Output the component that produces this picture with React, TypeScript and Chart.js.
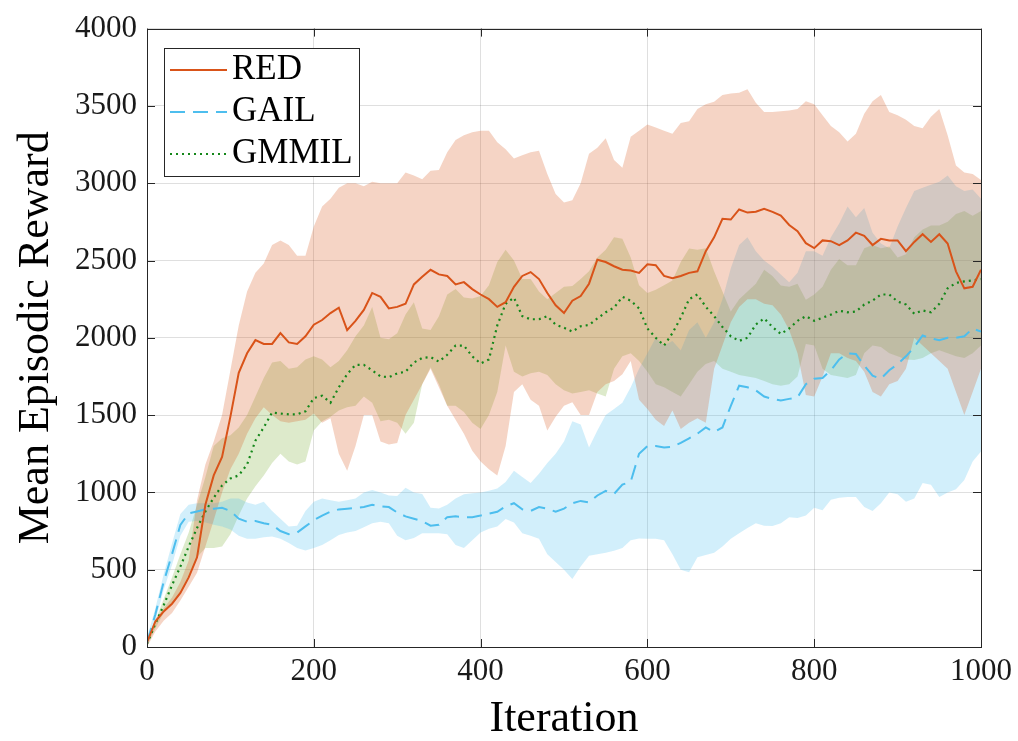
import React, { useEffect, useRef } from 'react';
import { Chart, registerables } from 'chart.js';

Chart.register(...registerables);

const iterations = [
  0, 10, 20, 30, 40, 50, 60, 70, 80, 90,
  100, 110, 120, 130, 140, 150, 160, 170, 180, 190,
  200, 210, 220, 230, 240, 250, 260, 270, 280, 290,
  300, 310, 320, 330, 340, 350, 360, 370, 380, 390,
  400, 410, 420, 430, 440, 450, 460, 470, 480, 490,
  500, 510, 520, 530, 540, 550, 560, 570, 580, 590,
  600, 610, 620, 630, 640, 650, 660, 670, 680, 690,
  700, 710, 720, 730, 740, 750, 760, 770, 780, 790,
  800, 810, 820, 830, 840, 850, 860, 870, 880, 890,
  900, 910, 920, 930, 940, 950, 960, 970, 980, 990,
  1000,
];

const redMean = [
  30, 165, 230, 280, 350, 450, 580, 920, 1110, 1230,
  1490, 1773, 1900, 1985, 1960, 1960, 2030, 1970, 1960, 2010,
  2085, 2115, 2160, 2195, 2050, 2110, 2180, 2290, 2265, 2190,
  2200, 2220, 2345, 2395, 2440, 2410, 2400, 2345, 2360, 2315,
  2280, 2250, 2200, 2230, 2330, 2400, 2425, 2380, 2290, 2210,
  2160, 2240, 2270, 2350, 2505, 2490, 2463, 2440, 2435, 2420,
  2475, 2470, 2400, 2385, 2400, 2420, 2430, 2560, 2650, 2770,
  2765, 2830, 2810, 2815, 2835, 2815, 2790, 2730, 2690, 2612,
  2580, 2630, 2625, 2600, 2630, 2680, 2660, 2600, 2640, 2630,
  2630, 2560, 2620, 2670, 2620, 2670, 2610, 2430, 2320, 2330,
  2440,
];
const redUpper = [
  50, 180, 250, 320, 420, 560, 950, 1180, 1330, 1500,
  1790, 2080, 2300, 2420, 2480, 2600, 2630, 2600, 2530, 2530,
  2720, 2850, 2900, 2970, 3000, 3000, 2980, 3010, 3000, 3000,
  3000, 3070, 3050, 3025, 3080, 3085, 3200, 3280, 3310, 3330,
  3340, 3340, 3265, 3220, 3160, 3180, 3200, 3210, 3060, 2930,
  2875, 2890, 3000, 3190, 3230, 3290, 3150, 3100, 3300, 3340,
  3380, 3360, 3340, 3320, 3390, 3400, 3480, 3510, 3527, 3570,
  3580, 3585, 3607, 3520, 3460, 3460, 3465, 3470, 3480, 3530,
  3510, 3440, 3370, 3330, 3270, 3320, 3450, 3530, 3570, 3460,
  3440, 3410, 3370, 3356, 3430, 3480, 3310, 3115, 3070, 3060,
  3020,
];
const redLower = [
  0, 100, 170, 220, 300, 390, 480, 650, 820, 1000,
  1150, 1250, 1380, 1480, 1550, 1500, 1460, 1450, 1460, 1470,
  1510, 1450, 1480, 1250, 1140, 1300, 1500, 1500, 1330, 1310,
  1320, 1500, 1600, 1700, 1800, 1680, 1560, 1470, 1380, 1270,
  1200, 1150, 1110, 1300, 1650, 1700, 1600, 1560, 1400, 1490,
  1560, 1583, 1500, 1500, 1650, 1700, 1720, 1765, 1850, 1600,
  1540, 1470, 1430, 1530, 1410, 1450, 1480, 1450, 1800, 1950,
  2100, 2200, 2250, 2250, 2220, 2210, 2150, 2050, 1900, 1630,
  1620, 1750, 1900, 1900, 1870, 1850, 1780, 1650, 1620, 1700,
  1720, 1800, 2000, 1950, 1900, 1850, 1800, 1650, 1500, 1650,
  1800,
];

const gailMean = [
  30, 210, 420, 600, 790, 864, 877, 890, 895, 900,
  880, 830, 810, 815, 800, 790, 750, 730, 740, 780,
  820, 850, 875, 890, 895, 900, 905, 920, 910, 905,
  870, 845, 830, 815, 785, 790, 840, 845, 840, 840,
  850, 862, 875, 910, 930, 890, 880, 905, 895, 875,
  895, 930, 945, 935, 980, 1010, 990, 1050, 1070, 1250,
  1300, 1300, 1290, 1295, 1320, 1350, 1380, 1420, 1390, 1420,
  1560, 1690, 1680, 1660, 1620, 1605, 1595, 1605, 1615, 1700,
  1735, 1740, 1790, 1860, 1900, 1895, 1820, 1755, 1735, 1790,
  1830, 1880, 1940, 2015, 1995, 1985, 2000, 2000, 2010, 2060,
  2040,
];
const gailUpper = [
  60, 250, 470, 670, 860, 920, 930, 930, 930, 940,
  960, 960, 935, 920, 940, 880, 830, 780, 785, 880,
  940, 960, 950, 940, 950, 960, 1000, 1015, 1000, 980,
  976, 1030, 1000, 990, 900, 896, 920, 960, 988, 995,
  1000, 1010, 1025, 1068, 1140, 1100, 1060, 1120, 1190, 1250,
  1330, 1460, 1440, 1290, 1400, 1500, 1540, 1580, 1680, 1800,
  1900, 2000, 1950, 1980, 1920, 2050, 2100, 2000, 2100, 2250,
  2450, 2600, 2650, 2560, 2500, 2460, 2410, 2360, 2420, 2560,
  2560, 2530, 2650, 2740, 2850, 2780, 2840, 2680, 2610, 2580,
  2720, 2840, 2950, 2970, 2990, 3010, 3050, 2980, 2950, 2960,
  2900,
];
const gailLower = [
  0, 170, 370, 530, 720, 810, 815, 805, 790, 780,
  760, 720, 700, 700, 710, 715, 700, 672, 640, 625,
  640, 660, 690, 725, 740, 750, 775, 800, 810, 800,
  720, 690, 705, 736, 736, 736, 730, 660, 640, 690,
  740, 765, 780, 828, 805, 736, 720, 700, 600, 550,
  500, 440, 520, 590, 600, 610, 622, 640, 690, 702,
  700, 700, 690, 600, 500, 484, 580, 595, 610, 650,
  700, 736, 770, 800, 785, 782, 800, 839, 835, 850,
  900, 885, 953, 965, 970, 970, 905, 880, 930, 999,
  988, 940, 960, 1060, 1050, 970, 1000, 1020, 1080, 1200,
  1265,
];

const gmmilMean = [
  20, 150, 270, 400, 520, 650, 770, 877, 965, 1045,
  1090, 1110, 1180, 1335, 1420, 1517, 1510, 1505, 1505, 1525,
  1610, 1625, 1580, 1680, 1765, 1825, 1825, 1790, 1750, 1745,
  1770, 1780, 1840, 1870, 1875, 1846, 1890, 1950, 1950, 1880,
  1834, 1860, 2080, 2220, 2260, 2140, 2120, 2120, 2140, 2085,
  2065, 2040, 2075, 2083, 2125, 2165, 2195, 2265, 2240, 2190,
  2060, 2000, 1950, 2030, 2130, 2250, 2280, 2200, 2140, 2070,
  2010, 1980, 2000, 2086, 2125, 2070, 2025, 2060, 2110, 2140,
  2110, 2130, 2150, 2175, 2165, 2170, 2215, 2240, 2280, 2280,
  2235, 2215, 2155, 2177, 2165, 2220, 2320, 2355, 2365, 2372,
  2380,
];
const gmmilUpper = [
  30, 170, 310, 450, 600, 740, 920, 1100, 1300, 1350,
  1370, 1420, 1500, 1620, 1740, 1840, 1850, 1800, 1810, 1860,
  1880, 1860, 1810, 1850, 1920, 2010, 2080, 2200, 2000, 1990,
  2030, 2150, 2230, 2060, 2050, 2140, 2280, 2315, 2260, 2255,
  2270, 2340, 2490, 2570, 2500, 2380, 2380, 2300, 2250, 2290,
  2330, 2335, 2380, 2430, 2520, 2570, 2650, 2640, 2520, 2340,
  2290, 2310, 2340, 2370, 2490, 2578, 2570, 2580, 2430, 2300,
  2170, 2250, 2300, 2350, 2440, 2400, 2338, 2330, 2350, 2246,
  2280, 2330, 2440, 2510, 2470, 2470, 2580, 2600, 2580, 2590,
  2520, 2540, 2650, 2700, 2727, 2727, 2750, 2800, 2820, 2790,
  2820,
];
const gmmilLower = [
  10, 120, 220, 290, 360, 460, 580, 640, 640, 650,
  730, 850, 960, 1040, 1110, 1190, 1250, 1200, 1180, 1200,
  1400, 1460, 1490, 1530, 1550, 1560, 1620, 1580, 1460, 1470,
  1450, 1380, 1450, 1700, 1810, 1700, 1560, 1560, 1520, 1450,
  1410, 1500, 1650, 1950, 1780, 1750, 1770, 1780, 1760, 1700,
  1660, 1640, 1650, 1660, 1640, 1620, 1800, 1880, 1900, 1850,
  1780, 1700, 1680, 1650, 1620, 1700, 1780, 1830, 1850, 1800,
  1780, 1760, 1750, 1740, 1720, 1700, 1690, 1700, 1750, 1960,
  1950, 1800, 1760, 1750, 1740, 1760, 1900, 1950, 1940, 1900,
  1880, 1860, 1857, 1870, 1900, 1920, 1900, 1880, 1870, 1900,
  1950,
];

const xTicks = [0, 200, 400, 600, 800, 1000];
const yTicks = [0, 500, 1000, 1500, 2000, 2500, 3000, 3500, 4000];
const legendLabels = ['RED', 'GAIL', 'GMMIL'];

const lineColors = ['#D95319', '#4DBEEE', '#14871a'];
const bandColors = ['rgba(217,83,25,0.25)', 'rgba(77,190,238,0.25)', 'rgba(119,172,48,0.25)'];
const lineWidths = [2, 2, 2.2];
const lineDashes: number[][] = [[], [15, 8], [2, 4]];

const SERIF = '"Liberation Serif", "DejaVu Serif", serif';

const toPts = (vals: number[]) => vals.map((v, i) => ({ x: iterations[i], y: v }));

const frameAndLegend = {
  id: 'frameAndLegend',
  afterDraw(chart: any) {
    const { ctx, chartArea } = chart;
    const { left, right, top, bottom } = chartArea;
    const xs = chart.scales.x;
    const ys = chart.scales.y;
    ctx.save();
    ctx.strokeStyle = '#262626';
    ctx.lineWidth = 1;
    ctx.beginPath();
    for (const v of xTicks) {
      const px = Math.round(xs.getPixelForValue(v)) + 0.5;
      ctx.moveTo(px, bottom);
      ctx.lineTo(px, bottom - 8);
      ctx.moveTo(px, top);
      ctx.lineTo(px, top + 8);
    }
    for (const v of yTicks) {
      const py = Math.round(ys.getPixelForValue(v)) + 0.5;
      ctx.moveTo(left, py);
      ctx.lineTo(left + 8, py);
      ctx.moveTo(right, py);
      ctx.lineTo(right - 8, py);
    }
    ctx.stroke();
    ctx.strokeRect(Math.round(left) + 0.5, Math.round(top) + 0.5, Math.round(right - left), Math.round(bottom - top));

    const bx = Math.round(left) + 17;
    const by = Math.round(top) + 19;
    const bw = 195;
    const bh = 128;
    ctx.fillStyle = '#ffffff';
    ctx.fillRect(bx, by, bw, bh);
    ctx.strokeStyle = '#262626';
    ctx.strokeRect(bx + 0.5, by + 0.5, bw, bh);
    legendLabels.forEach((label, i) => {
      const ly = by + 22 + i * 42;
      ctx.save();
      ctx.strokeStyle = lineColors[i];
      ctx.lineWidth = lineWidths[i];
      ctx.setLineDash(lineDashes[i]);
      ctx.beginPath();
      ctx.moveTo(bx + 6, ly);
      ctx.lineTo(bx + 63, ly);
      ctx.stroke();
      ctx.restore();
      ctx.fillStyle = '#000000';
      ctx.font = '35px ' + SERIF;
      ctx.textBaseline = 'alphabetic';
      ctx.textAlign = 'left';
      ctx.fillText(label, bx + 68, ly + 9);
    });
    ctx.restore();
  },
};

export default function App() {
  const ref = useRef<HTMLCanvasElement | null>(null);

  useEffect(() => {
    if (!ref.current) return;
    const bands = [
      [redUpper, redLower],
      [gailUpper, gailLower],
      [gmmilUpper, gmmilLower],
    ];
    const means = [redMean, gailMean, gmmilMean];
    const datasets: any[] = [];
    bands.forEach(([up, lo], i) => {
      datasets.push({
        label: legendLabels[i] + ' upper',
        data: toPts(up),
        borderWidth: 0,
        borderColor: 'rgba(0,0,0,0)',
        pointRadius: 0,
        fill: false,
        order: 2,
      });
      datasets.push({
        label: legendLabels[i] + ' lower',
        data: toPts(lo),
        borderWidth: 0,
        borderColor: 'rgba(0,0,0,0)',
        backgroundColor: bandColors[i],
        pointRadius: 0,
        fill: '-1',
        order: 2,
      });
    });
    means.forEach((m, i) => {
      datasets.push({
        label: legendLabels[i],
        data: toPts(m),
        borderColor: lineColors[i],
        borderWidth: lineWidths[i],
        borderDash: lineDashes[i],
        pointRadius: 0,
        fill: false,
        tension: 0,
        order: 0,
      });
    });

    const chart = new Chart(ref.current, {
      type: 'line',
      data: { datasets },
      plugins: [frameAndLegend],
      options: {
        animation: false,
        responsive: false,
        maintainAspectRatio: false,
        layout: { padding: { top: 22, right: 37, left: 0, bottom: 0 } },
        plugins: {
          legend: { display: false },
          tooltip: { enabled: false },
          filler: { drawTime: 'beforeDatasetsDraw' },
        },
        scales: {
          x: {
            type: 'linear',
            min: 0,
            max: 1000,
            z: 1,
            afterBuildTicks: (s: any) => {
              s.ticks = xTicks.map((v) => ({ value: v }));
            },
            afterFit: (s: any) => {
              s.height = 94;
            },
            ticks: {
              color: '#1a1a1a',
              font: { family: SERIF, size: 31 },
              padding: 6,
              maxRotation: 0,
              autoSkip: false,
              callback: (v: any) => String(v),
            },
            grid: { color: 'rgba(38,38,38,0.15)', drawTicks: false, lineWidth: 1 },
            border: { display: false },
            title: {
              display: true,
              text: 'Iteration',
              color: '#000000',
              font: { family: SERIF, size: 44, lineHeight: 1.0 },
              padding: { top: 0, bottom: 0 },
            },
          },
          y: {
            type: 'linear',
            min: 0,
            max: 4000,
            z: 1,
            afterBuildTicks: (s: any) => {
              s.ticks = yTicks.map((v) => ({ value: v }));
            },
            afterFit: (s: any) => {
              s.width = 147;
            },
            ticks: {
              color: '#1a1a1a',
              font: { family: SERIF, size: 31 },
              padding: 10,
              autoSkip: false,
              callback: (v: any) => String(v),
            },
            grid: { color: 'rgba(38,38,38,0.15)', drawTicks: false, lineWidth: 1 },
            border: { display: false },
            title: {
              display: true,
              text: 'Mean Episodic Reward',
              color: '#000000',
              font: { family: SERIF, size: 44 },
              padding: { top: 10, bottom: 0 },
            },
          },
        },
      } as any,
    });
    return () => chart.destroy();
  }, []);

  return (
    <div style={{ position: 'absolute', left: 0, top: 0, width: 1018, height: 741, background: '#fff' }}>
      <canvas ref={ref} width={1018} height={741} style={{ display: 'block', width: 1018, height: 741 }} />
    </div>
  );
}
